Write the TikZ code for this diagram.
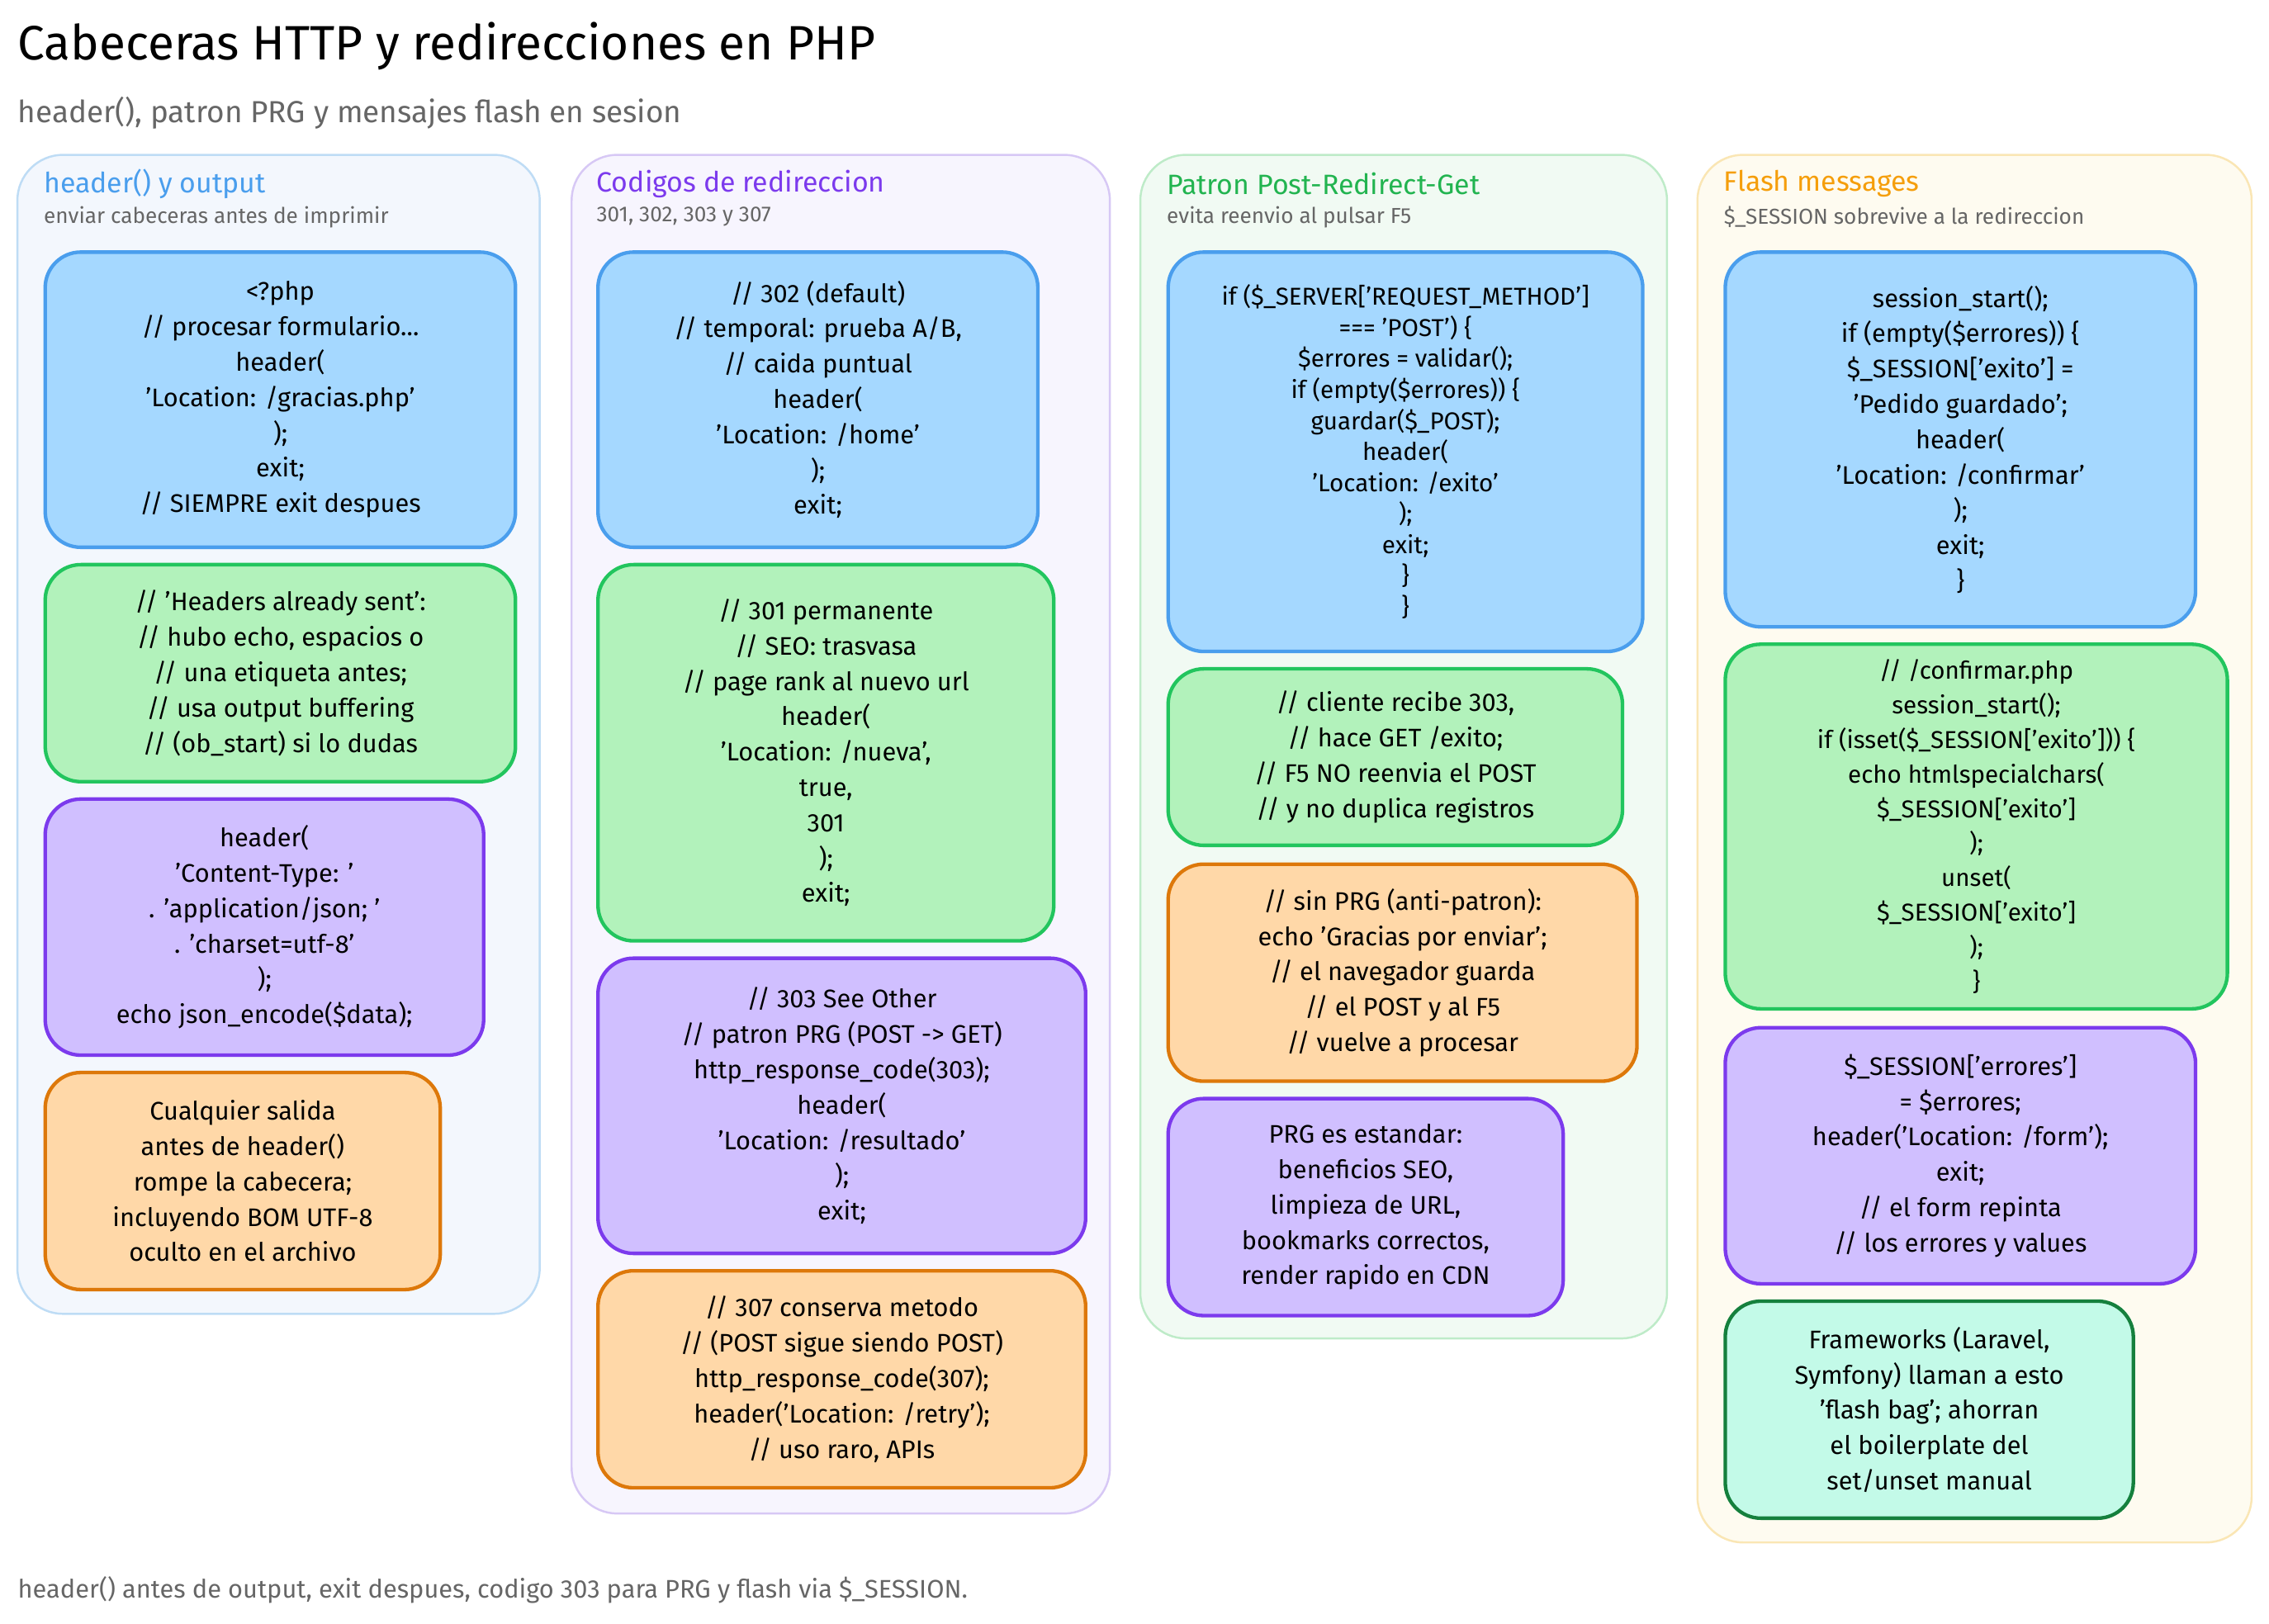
\documentclass[tikz,border=0pt]{standalone}
\usepackage{fontspec}
\setmainfont{Fira Sans}
\begin{document}
\begin{tikzpicture}[x=0.02cm,y=-0.02cm,
 col/.style={rounded corners=18pt,line width=0.8pt},
 bx/.style={rounded corners=14pt,line width=1.4pt,align=center,font=\fontsize{10}{13.9}\selectfont,inner sep=0pt},
 bl/.style={bx,fill={rgb,255:red,165;green,216;blue,255},draw={rgb,255:red,74;green,158;blue,237}},
 gr/.style={bx,fill={rgb,255:red,178;green,242;blue,187},draw={rgb,255:red,34;green,197;blue,94}},
 pu/.style={bx,fill={rgb,255:red,208;green,191;blue,255},draw={rgb,255:red,124;green,58;blue,237}},
 orr/.style={bx,fill={rgb,255:red,255;green,216;blue,168},draw={rgb,255:red,221;green,120;blue,10}},
 te/.style={bx,fill={rgb,255:red,195;green,250;blue,232},draw={rgb,255:red,21;green,128;blue,61}},
 small1/.style={font=\fontsize{9.6}{12.2}\selectfont},
 small2/.style={font=\fontsize{9.6}{13.6}\selectfont},
 ct/.style={anchor=west,font=\fontsize{11}{12}\selectfont,inner sep=0pt},
 cs/.style={anchor=west,font=\fontsize{8.5}{9}\selectfont,text=black!60,inner sep=0pt}]
\newcommand\bx[7]{\node[#6,anchor=north west,minimum width=#4*0.02cm,minimum height=#5*0.02cm] (#1) at (#2,#3) {#7};}
\useasboundingbox[fill=white] (0,0) rectangle (1568,1122);
\node[anchor=west,font=\fontsize{19}{22}\selectfont,inner sep=0pt] (title) at (12,32) {Cabeceras HTTP y redirecciones en PHP};
\node[anchor=west,font=\fontsize{12}{14}\selectfont,text=black!60,inner sep=0pt] (sub) at (12,78) {header(), patron PRG y mensajes flash en sesion};
\node[anchor=west,font=\fontsize{10}{12}\selectfont,text=black!60,inner sep=0pt] (foot) at (12,1099) {header() antes de output, exit despues, codigo 303 para PRG y flash via \$\_SESSION.};
% columns
\draw[col,fill={rgb,255:red,243;green,247;blue,253},draw={rgb,255:red,190;green,220;blue,245}] (12,107) rectangle (373,908);
\draw[col,fill={rgb,255:red,247;green,245;blue,254},draw={rgb,255:red,215;green,200;blue,245}] (395,107) rectangle (767,1046);
\draw[col,fill={rgb,255:red,241;green,250;blue,243},draw={rgb,255:red,190;green,235;blue,200}] (788,107) rectangle (1152,925);
\draw[col,fill={rgb,255:red,254;green,251;blue,240},draw={rgb,255:red,250;green,230;blue,180}] (1173,107) rectangle (1556,1066);
\node[ct,text={rgb,255:red,74;green,158;blue,237}] (t1) at (30,127) {header() y output};
\node[cs] (s1) at (30,150) {enviar cabeceras antes de imprimir};
\node[ct,text={rgb,255:red,124;green,58;blue,237}] (t2) at (412,127) {Codigos de redireccion};
\node[cs] (s2) at (412,150) {301, 302, 303 y 307};
\node[ct,text={rgb,255:red,34;green,180;blue,80}] (t3) at (806,127) {Patron Post-Redirect-Get};
\node[cs] (s3) at (806,150) {evita reenvio al pulsar F5};
\node[ct,text={rgb,255:red,245;green,158;blue,11}] (t4) at (1191,127) {Flash messages};
\node[cs] (s4) at (1191,150) {\$\_SESSION sobrevive a la redireccion};
% col1
\bx{a1}{30}{173}{325}{204}{bl}{<?php\\// procesar formulario...\\header(\\'Location: /gracias.php'\\);\\exit;\\// SIEMPRE exit despues}
\bx{a2}{30}{389}{325}{150}{gr}{// 'Headers already sent':\\// hubo echo, espacios o\\// una etiqueta antes;\\// usa output buffering\\// (ob\_start) si lo dudas}
\bx{a3}{30}{551}{303}{177}{pu}{header(\\'Content-Type: '\\. 'application/json; '\\. 'charset=utf-8'\\);\\echo json\_encode(\$data);}
\bx{a4}{30}{740}{273}{150}{orr}{Cualquier salida\\antes de header()\\rompe la cabecera;\\incluyendo BOM UTF-8\\oculto en el archivo}
% col2
\bx{b1}{412}{173}{304}{204}{bl}{// 302 (default)\\// temporal: prueba A/B,\\// caida puntual\\header(\\'Location: /home'\\);\\exit;}
\bx{b2}{412}{389}{315}{260}{gr}{// 301 permanente\\// SEO: trasvasa\\// page rank al nuevo url\\header(\\'Location: /nueva',\\true,\\301\\);\\exit;}
\bx{b3}{412}{661}{337}{204}{pu}{// 303 See Other\\// patron PRG (POST -> GET)\\http\_response\_code(303);\\header(\\'Location: /resultado'\\);\\exit;}
\bx{b4}{412}{877}{337}{150}{orr}{// 307 conserva metodo\\// (POST sigue siendo POST)\\http\_response\_code(307);\\header('Location: /retry');\\// uso raro, APIs}
% col3
\bx{c1}{806}{173}{328}{276}{bl,small1}{if (\$\_SERVER['REQUEST\_METHOD']\\=== 'POST') \{\\\$errores = validar();\\if (empty(\$errores)) \{\\guardar(\$\_POST);\\header(\\'Location: /exito'\\);\\exit;\\\}\\\}}
\bx{c2}{806}{461}{314}{122}{gr}{// cliente recibe 303,\\// hace GET /exito;\\// F5 NO reenvia el POST\\// y no duplica registros}
\bx{c3}{806}{596}{324}{150}{orr}{// sin PRG (anti-patron):\\echo 'Gracias por enviar';\\// el navegador guarda\\// el POST y al F5\\// vuelve a procesar}
\bx{c4}{806}{758}{273}{150}{pu}{PRG es estandar:\\beneficios SEO,\\limpieza de URL,\\bookmarks correctos,\\render rapido en CDN}
% col4
\bx{d1}{1191}{173}{325}{259}{bl}{session\_start();\\if (empty(\$errores)) \{\\\$\_SESSION['exito'] =\\'Pedido guardado';\\header(\\'Location: /confirmar'\\);\\exit;\\\}}
\bx{d2}{1191}{444}{347}{252}{gr,small2}{// /confirmar.php\\session\_start();\\if (isset(\$\_SESSION['exito'])) \{\\echo htmlspecialchars(\\\$\_SESSION['exito']\\);\\unset(\\\$\_SESSION['exito']\\);\\\}}
\bx{d3}{1191}{709}{325}{177}{pu}{\$\_SESSION['errores']\\= \$errores;\\header('Location: /form');\\exit;\\// el form repinta\\// los errores y values}
\bx{d4}{1191}{898}{282}{150}{te}{Frameworks (Laravel,\\Symfony) llaman a esto\\'flash bag'; ahorran\\el boilerplate del\\set/unset manual}
\end{tikzpicture}
\end{document}
